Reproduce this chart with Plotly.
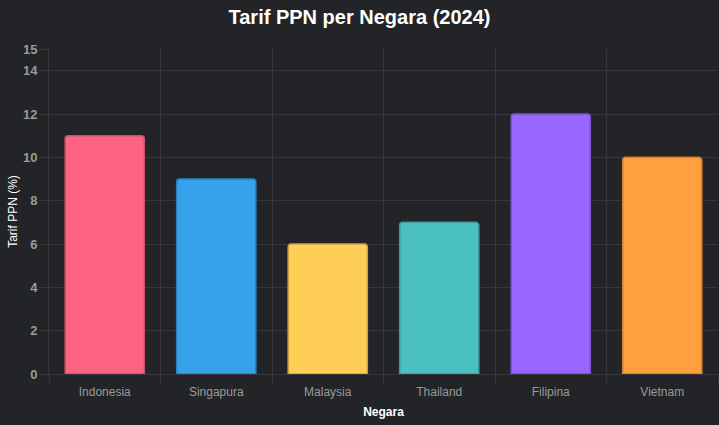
import plotly.graph_objects as go

negara = ['Indonesia', 'Singapura', 'Malaysia', 'Thailand', 'Filipina', 'Vietnam']
tarif_ppn = [11, 9, 6, 7, 12, 10]
warna = ['#ff6384', '#36a2eb', '#ffce56', '#4bc0c0', '#9966ff', '#ff9f40']
warna_garis = ['#c9506a', '#2b82bd', '#c9a244', '#3c9999', '#7a52cc', '#cc7f33']
y_ticks = [0, 2, 4, 6, 8, 10, 12, 14, 15]

bg = '#232428'
grid = '#36373c'

fig = go.Figure(go.Bar(
    x=negara, y=tarif_ppn,
    marker=dict(color=warna, line=dict(color=warna_garis, width=1.5)),
    hoverinfo='x+y'))

fig.update_layout(
    width=719, height=425,
    paper_bgcolor=bg, plot_bgcolor=bg,
    margin=dict(l=49, r=1, t=49, b=51),
    bargap=0.29,
    barcornerradius=3,
    showlegend=False,
    title=dict(text='<b>Tarif PPN per Negara (2024)</b>', x=0.5, xanchor='center',
               y=0.96, yanchor='middle',
               font=dict(family='Liberation Sans, Arial', size=20, color='#ffffff')),
    font=dict(family='Liberation Sans, Arial', color='#9a9a9a'))

fig.update_xaxes(
    showgrid=True, gridcolor=grid, tickson='boundaries',
    ticks='outside', ticklen=8, tickcolor=grid,
    showline=True, linecolor=grid, ticklabelstandoff=7,
    tickfont=dict(size=12, color='#9a9a9a'),
    title=dict(text='<b>Negara</b>', font=dict(size=12, color='#ffffff'), standoff=9))

fig.update_yaxes(
    range=[0, 15], tickvals=y_ticks, showgrid=True, gridcolor=grid,
    ticks='outside', ticklen=9, tickcolor=grid,
    showline=True, linecolor=grid, zeroline=False, ticklabelstandoff=-1,
    tickfont=dict(size=13, color='#9a9a9a', weight='bold'),
    title=dict(text='Tarif PPN (%)', font=dict(size=12, color='#ffffff'), standoff=2))

# no default page margin round the figure
fig.write_html('out.html', config={'displayModeBar': False},
               post_script="document.body.style.margin='0';"
               "document.body.style.background='" + bg + "';")
